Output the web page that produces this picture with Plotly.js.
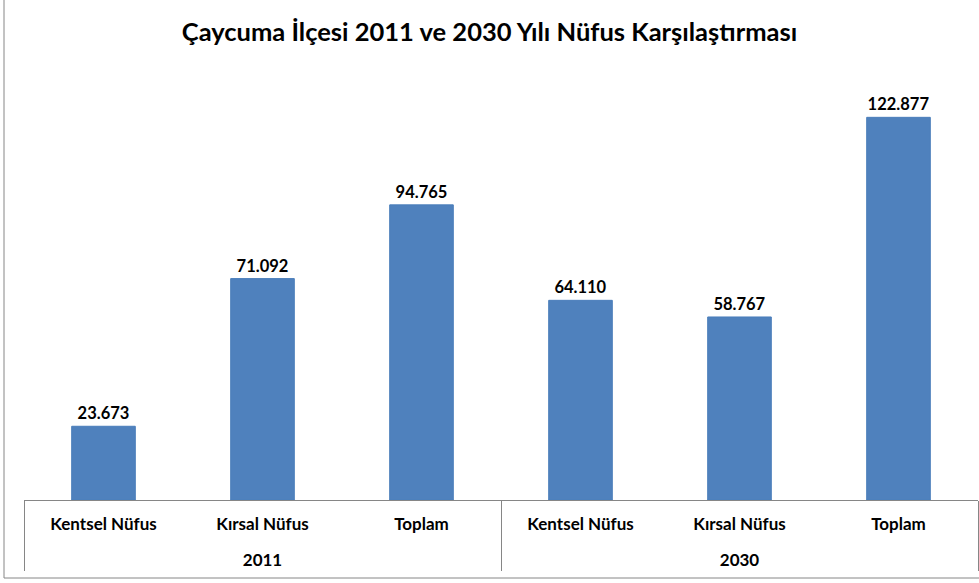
<!DOCTYPE html>
<html><head><meta charset="utf-8">
<script src="https://cdn.plot.ly/plotly-3.0.1.min.js"></script>
<style>body{margin:0;background:#fff}#chart{width:979px;height:583px}</style>
</head><body><div id="chart"></div>
<script>
const years = ["2011","2011","2011","2030","2030","2030"];
const categories = ["Kentsel Nüfus","Kırsal Nüfus","Toplam","Kentsel Nüfus","Kırsal Nüfus","Toplam"];
const values = [23673, 71092, 94765, 64110, 58767, 122877];

const W = 979, H = 583, ML = 24, MR = 1, MT = 64, MB = 83;
const pw = W - ML - MR, ph = H - MT - MB;
const px = v => (v - ML) / pw;
const py = v => (H - MB - v) / ph;

// extra blank line under the inner labels to open space between the two label rows
const innerLabels = categories.map(c => c + "<br>&nbsp;");

const trace = {
  type: "bar",
  x: [years, innerLabels],
  y: values,
  marker: {color: "#4F81BD", line: {color: "#4A7EBB", width: 1}},
  texttemplate: "%{y:,.0f}",
  textposition: "outside",
  cliponaxis: false,
  textfont: {family: "Lato, 'Open Sans', sans-serif", size: 16.5, color: "#000", weight: "bold"},
  hoverinfo: "none"
};

const layout = {
  width: W, height: H,
  margin: {l: ML, r: MR, t: MT, b: MB},
  separators: ",.",
  paper_bgcolor: "#fff", plot_bgcolor: "#fff",
  showlegend: false,
  bargap: 0.6,
  title: {text: "<b>Çaycuma İlçesi 2011 ve 2030 Yılı Nüfus Karşılaştırması</b>",
          font: {family: "Lato, 'Open Sans', sans-serif", size: 25.5, color: "#000"},
          x: 0.5, xanchor: "center", y: 1 - 32/H, yanchor: "middle"},
  xaxis: {type: "multicategory", showline: true, linecolor: "#868686", linewidth: 1,
          ticks: "", showgrid: false, zeroline: false, ticklabelstandoff: 9,
          showdividers: true, dividercolor: "#868686", dividerwidth: 1,
          tickfont: {family: "Lato, 'Open Sans', sans-serif", size: 17, color: "#000", weight: "bold"}},
  yaxis: {range: [0, 140000], visible: false, showgrid: false, zeroline: false},
  shapes: [
    {type: "rect", xref: "paper", yref: "paper", x0: px(4), x1: px(990), y0: py(578), y1: py(-2),
     line: {color: "#868686", width: 1}, fillcolor: "rgba(0,0,0,0)", layer: "below"}
  ]
};

Plotly.newPlot("chart", [trace], layout, {displayModeBar: false, staticPlot: true});
</script></body></html>
